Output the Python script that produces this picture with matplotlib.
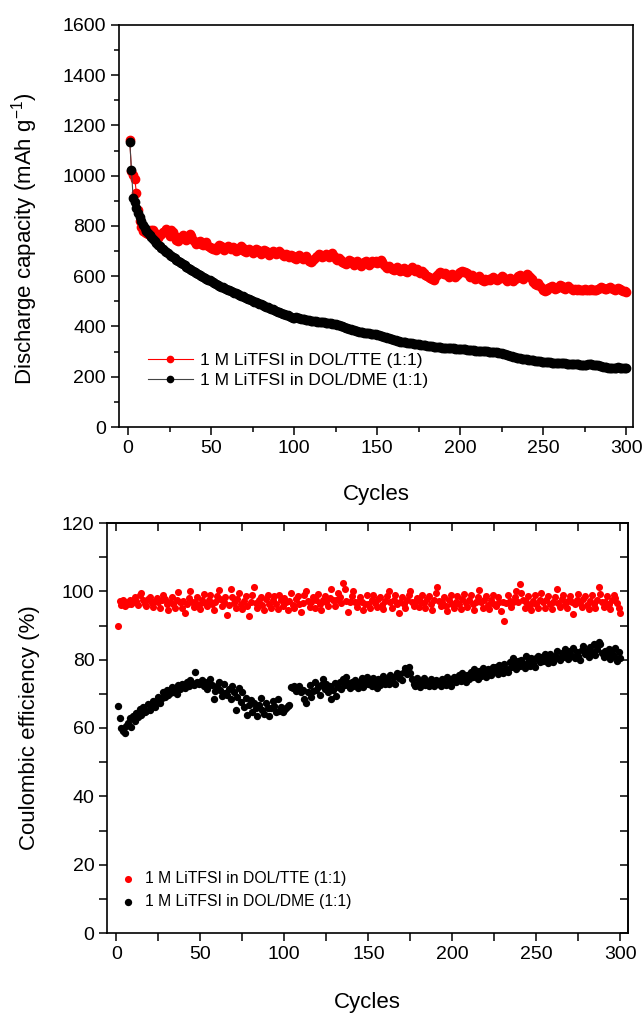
import numpy as np
import matplotlib
matplotlib.use("Agg")
import matplotlib.pyplot as plt
from matplotlib.ticker import MultipleLocator

plt.rcParams['font.family'] = ['Liberation Sans', 'DejaVu Sans']

label_tte = "1 M LiTFSI in DOL/TTE (1:1)"
label_dme = "1 M LiTFSI in DOL/DME (1:1)"

cap_tte = [
    1142, 1018, 1002, 988, 930, 865, 818, 795, 782, 778,
    772, 768, 775, 783, 786, 772, 760, 752, 764, 770,
    776, 782, 788, 774, 762, 784, 778, 760, 746, 742,
    752, 758, 764, 750, 744, 756, 768, 762, 746, 736,
    728, 738, 742, 730, 724, 732, 736, 722, 716, 712,
    708, 714, 706, 718, 726, 720, 710, 704, 714, 722,
    716, 708, 718, 712, 702, 706, 714, 720, 712, 700,
    696, 704, 710, 702, 694, 700, 708, 704, 696, 690,
    698, 706, 700, 692, 686, 694, 700, 696, 688, 692,
    700, 694, 686, 680, 688, 684, 678, 686, 680, 674,
    670, 678, 684, 676, 668, 672, 680, 674, 662, 656,
    660, 668, 676, 682, 688, 684, 676, 680, 690, 684,
    678, 686, 692, 680, 670, 664, 672, 666, 658, 654,
    650, 656, 664, 660, 652, 646, 654, 660, 648, 642,
    650, 656, 660, 652, 644, 654, 662, 656, 660, 654,
    658, 664, 656, 646, 638, 632, 640, 634, 628, 624,
    630, 636, 626, 620, 628, 632, 622, 616, 624, 630,
    636, 628, 622, 630, 618, 612, 620, 614, 606, 600,
    598, 592, 588, 586, 596, 604, 612, 618, 614, 608,
    614, 606, 598, 604, 610, 602, 596, 606, 614, 618,
    620, 616, 618, 612, 604, 598, 604, 596, 590, 594,
    600, 592, 586, 582, 590, 586, 588, 584, 592, 598,
    590, 584, 588, 594, 600, 596, 588, 582, 590, 594,
    586, 580, 588, 594, 600, 606, 598, 590, 600, 608,
    604, 596, 590, 578, 570, 566, 572, 560, 552, 544,
    540, 546, 552, 558, 562, 556, 550, 554, 558, 564,
    560, 554, 550, 556, 560, 552, 548, 546, 548, 546,
    548, 546, 544, 546, 548, 546, 544, 546, 548, 546,
    544, 546, 548, 552, 556, 552, 548, 550, 554, 556,
    552, 548, 546, 550, 554, 548, 544, 540, 542, 538,
]

cap_dme = [
    1134, 1022, 912, 895, 872, 852, 834, 818, 804, 792,
    782, 772, 764, 756, 748, 740, 733, 726, 719, 713,
    707, 701, 696, 691, 686, 681, 676, 671, 666, 661,
    656, 652, 648, 643, 638, 634, 630, 626, 622, 618,
    614, 610, 606, 602, 598, 594, 590, 587, 584, 580,
    577, 574, 570, 566, 562, 559, 556, 553, 550, 547,
    544, 541, 538, 535, 532, 529, 526, 523, 520, 517,
    514, 511, 508, 505, 502, 499, 497, 494, 491, 488,
    485, 482, 479, 476, 473, 471, 468, 465, 462, 459,
    456, 453, 450, 448, 446, 444, 441, 438, 435, 432,
    436, 434, 432, 431, 430, 428, 426, 425, 424, 423,
    422, 421, 420, 419, 418, 418, 417, 416, 415, 414,
    413, 412, 411, 410, 408, 406, 404, 402, 400, 398,
    396, 394, 392, 390, 388, 386, 384, 382, 380, 378,
    377, 376, 375, 374, 373, 372, 371, 370, 369, 368,
    366, 364, 362, 360, 358, 356, 354, 352, 350, 348,
    346, 344, 342, 340, 339, 338, 337, 336, 335, 334,
    333, 332, 331, 330, 329, 328, 327, 326, 325, 324,
    323, 322, 321, 320, 319, 318, 318, 317, 316, 316,
    315, 315, 314, 314, 313, 313, 312, 312, 311, 311,
    310, 310, 309, 308, 307, 306, 306, 305, 304, 304,
    303, 303, 302, 302, 301, 301, 300, 300, 299, 299,
    298, 297, 296, 295, 294, 292, 290, 288, 286, 284,
    282, 280, 278, 276, 274, 273, 272, 271, 270, 269,
    268, 267, 266, 265, 264, 263, 262, 261, 260, 259,
    258, 258, 257, 257, 256, 256, 255, 255, 254, 254,
    254, 253, 253, 252, 252, 251, 251, 250, 250, 249,
    249, 248, 248, 247, 247, 248, 249, 250, 249, 248,
    247, 246, 245, 244, 242, 240, 238, 237, 236, 236,
    236, 235, 235, 236, 237, 236, 235, 234, 235, 236,
]

ce_tte = [
    90.0, 97.2, 96.0, 97.5, 95.8, 96.8, 96.2, 97.6, 96.4, 97.0,
    98.4, 97.2, 96.0, 98.8, 99.4, 97.6, 96.2, 95.6, 97.8, 98.2,
    96.6, 95.4, 97.2, 98.0, 96.8, 95.2, 97.4, 99.0, 97.8, 96.2,
    94.6, 97.0, 98.2, 96.4, 95.0, 97.6, 99.8, 96.8, 95.2, 97.2,
    93.8, 96.4, 98.0, 100.0, 97.0, 95.4, 96.8, 98.4, 96.0, 94.8,
    97.6, 99.2, 96.6, 95.8, 97.4, 98.8, 96.2, 94.6, 97.0, 98.6,
    100.4, 97.8, 95.6, 96.8, 98.2, 93.0, 96.0, 100.8, 98.4, 96.6,
    95.2, 97.8, 99.6, 96.4, 94.8, 97.2, 98.6, 95.8, 92.8, 97.0,
    98.8, 101.2, 96.6, 95.2, 97.4, 98.2, 96.0, 94.6, 97.8, 98.8,
    96.4, 95.0, 97.6, 98.6, 96.2, 94.8, 99.0, 97.4, 95.6, 98.0,
    96.8, 94.4, 97.2, 99.4, 96.0, 95.2, 97.8, 98.6, 96.4, 94.0,
    96.6, 98.8, 100.0, 97.2, 95.4, 96.8, 98.2, 95.0, 97.6, 99.2,
    96.2, 94.6, 97.4, 98.6, 96.8, 95.6, 98.0, 100.6, 97.4, 95.8,
    97.6, 99.4, 98.2, 96.6, 102.4, 100.8, 97.2, 94.0, 96.8, 98.6,
    100.0, 97.0, 95.4, 96.8, 98.2, 97.0, 94.6, 96.4, 98.8, 96.2,
    95.0, 97.4, 99.0, 96.6, 95.4, 97.8, 98.4, 96.0, 94.8, 97.2,
    98.6, 100.2, 96.8, 95.2, 97.6, 98.8, 96.4, 93.8, 97.0, 98.4,
    96.2, 95.0, 97.4, 98.8, 100.2, 97.0, 95.6, 96.8, 98.0, 95.4,
    97.2, 99.0, 96.6, 95.0, 97.8, 98.6, 96.2, 94.6, 97.4, 99.6,
    101.4, 97.2, 95.6, 96.8, 98.4, 95.8, 94.2, 97.6, 98.8, 96.4,
    95.2, 97.0, 98.6, 96.4, 94.8, 97.8, 99.2, 96.6, 95.4, 97.6,
    98.8, 96.2, 94.4, 97.0, 98.4, 100.4, 96.8, 95.2, 97.4, 98.6,
    96.0, 94.8, 97.6, 99.0, 96.4, 95.6, 98.2, 96.8, 94.2, 97.0,
    91.4, 96.6, 98.8, 97.2, 95.4, 96.8, 98.4, 100.2, 97.0, 102.2,
    99.6, 97.4, 95.2, 96.8, 98.6, 96.0, 94.6, 97.2, 98.8, 96.4,
    95.0, 97.6, 99.4, 96.8, 95.2, 97.4, 98.6, 96.2, 94.8, 97.0,
    98.4, 100.6, 96.6, 95.4, 97.8, 99.0, 96.4, 95.0, 97.2, 98.6,
    96.8, 93.4, 96.2, 97.6, 99.2, 96.6, 95.4, 97.8, 98.6, 96.0,
    94.8, 97.2, 98.8, 96.4, 95.2, 97.6, 101.4, 99.2, 96.8, 95.4,
    97.0, 98.6, 96.2, 94.8, 97.4, 99.0, 98.0, 96.6, 95.0, 93.8,
]

ce_dme = [
    66.5, 63.0, 60.0, 59.2, 58.4, 60.6, 61.4, 62.8, 60.2, 63.6,
    62.0, 64.4, 63.2, 65.6, 63.8, 66.2, 64.6, 65.0, 67.0, 65.4,
    66.8, 68.0, 66.2, 67.6, 69.2, 67.4, 68.8, 70.4, 69.0, 71.2,
    69.6, 70.2, 72.0, 70.6, 71.8, 70.0, 72.6, 71.4, 73.0, 72.2,
    71.6, 73.4, 72.4, 74.0, 73.2, 72.6, 76.4, 73.6, 72.8, 73.4,
    74.0, 72.2, 73.6, 71.4, 73.0, 74.2, 72.6, 68.6, 70.8, 72.4,
    73.6, 71.0, 69.4, 72.8, 70.2, 69.6, 71.4, 68.4, 72.4, 70.6,
    65.2, 69.0, 71.8, 67.6, 70.4, 66.2, 68.8, 63.8, 66.8, 68.2,
    64.6, 67.2, 65.8, 63.4, 66.6, 68.8, 65.4, 64.2, 67.4, 66.0,
    63.4, 65.8, 68.0, 66.4, 64.8, 68.4, 65.0, 66.2, 64.6, 65.4,
    65.8, 66.4, 66.8, 72.0, 71.6, 72.4, 70.8, 71.2, 72.2, 70.6,
    71.0, 68.4, 67.2, 70.4, 72.6, 69.0, 70.8, 73.4, 71.2, 72.0,
    69.6, 72.6, 74.2, 71.4, 73.0, 70.4, 72.4, 68.6, 71.0, 73.2,
    69.4, 72.0, 73.6, 71.4, 74.4, 72.6, 75.0, 73.2, 71.8, 73.6,
    72.4, 74.0, 72.8, 71.6, 73.4, 74.6, 72.0, 73.4, 74.8, 72.8,
    73.8, 72.4, 74.6, 73.2, 71.8, 74.2, 72.6, 73.8, 75.2, 73.0,
    74.4, 72.8, 75.6, 73.4, 74.8, 73.0, 76.2, 74.6, 75.8, 74.0,
    76.4, 77.6, 75.8, 77.8, 76.2, 74.4, 73.0, 72.4, 74.6, 73.2,
    72.0, 73.8, 74.6, 72.6, 73.4, 72.2, 74.2, 73.0, 72.4, 74.0,
    72.8, 73.6, 72.2, 74.4, 73.2, 72.6, 74.8, 73.4, 72.4, 74.2,
    75.0, 73.6, 74.4, 75.4, 73.8, 76.0, 74.6, 73.4, 75.6, 74.2,
    76.4, 75.0, 77.2, 75.6, 74.4, 76.8, 75.2, 77.6, 76.0, 75.0,
    77.2, 76.2, 75.4, 78.0, 76.6, 77.8, 75.8, 78.4, 77.0, 76.2,
    78.8, 77.4, 76.4, 79.2, 77.8, 80.4, 78.6, 77.2, 79.6, 78.2,
    80.0, 78.6, 77.6, 81.0, 79.4, 78.2, 80.6, 79.0, 78.0, 80.4,
    81.2, 79.2, 80.8, 79.6, 81.6, 80.2, 79.0, 81.8, 80.4, 79.4,
    81.0, 82.4, 80.6, 79.8, 82.0, 80.8, 83.0, 81.4, 80.2, 82.6,
    81.2, 83.4, 80.4, 82.2, 81.0, 79.8, 82.8, 84.0, 81.6, 82.4,
    80.8, 83.6, 82.2, 84.6, 81.4, 83.0, 85.2, 84.6, 82.0, 80.8,
    82.6, 81.4, 83.2, 80.2, 82.0, 81.0, 83.4, 79.6, 82.2, 80.4,
]

cycles = np.arange(1, len(cap_tte) + 1)

W, H = 644, 1013
fig = plt.figure(figsize=(W / 100, H / 100), dpi=100)

def frac(l, t, r, b):
    return [l / W, 1 - b / H, (r - l) / W, (b - t) / H]

TICK_FS = 14
LAB_FS = 16

# ---------------- top panel ----------------
ax1 = fig.add_axes(frac(119, 25, 633, 427))
ax1.plot(cycles, cap_tte, '-o', color='red', lw=0.8, ms=6, mec='red',
         mfc='red', label=label_tte, zorder=2)
ax1.plot(cycles, cap_dme, '-o', color='#444444', lw=0.8, ms=6, mec='black',
         mfc='black', label=label_dme, zorder=3)
ax1.set_xlim(-5.5, 304)
ax1.set_ylim(0, 1600)
ax1.xaxis.set_major_locator(MultipleLocator(50))
ax1.xaxis.set_minor_locator(MultipleLocator(25))
ax1.yaxis.set_major_locator(MultipleLocator(200))
ax1.yaxis.set_minor_locator(MultipleLocator(100))
ax1.tick_params(which='both', direction='out', width=1.1, labelsize=TICK_FS,
                top=False, right=False)
ax1.tick_params(which='major', length=6)
ax1.tick_params(which='minor', length=3.5)
for s in ax1.spines.values():
    s.set_linewidth(1.2)
ax1.set_xlabel("Cycles", fontsize=LAB_FS, labelpad=19)
ax1.set_ylabel("Discharge capacity (mAh g$^{\\mathregular{-1}}$)", fontsize=LAB_FS)
ax1.yaxis.set_label_coords(-0.154, 0.468)
leg1 = ax1.legend(loc='center left', bbox_to_anchor=(0.056, 0.14), frameon=False,
                  fontsize=12.5, handlelength=2.6, handletextpad=0.4,
                  labelspacing=0.3, borderpad=0, borderaxespad=0, markerscale=0.75)

# ---------------- bottom panel ----------------
ax2 = fig.add_axes(frac(107, 523, 628, 933))
ax2.scatter(cycles, ce_tte, s=26, color='red', label=label_tte, zorder=2, linewidths=0)
ax2.scatter(cycles, ce_dme, s=28, color='black', label=label_dme, zorder=3, linewidths=0)
ax2.set_xlim(-5.5, 304.5)
ax2.set_ylim(0, 120)
ax2.xaxis.set_major_locator(MultipleLocator(50))
ax2.xaxis.set_minor_locator(MultipleLocator(25))
ax2.yaxis.set_major_locator(MultipleLocator(20))
ax2.yaxis.set_minor_locator(MultipleLocator(10))
ax2.tick_params(which='both', direction='out', width=1.1, length=5.5,
                labelsize=TICK_FS, top=False, right=False)
for s in ax2.spines.values():
    s.set_linewidth(1.2)
secx = ax2.secondary_xaxis('top')
secx.xaxis.set_major_locator(MultipleLocator(25))
secx.tick_params(direction='in', length=5.5, width=1.1, labeltop=False)
secy = ax2.secondary_yaxis('right')
secy.yaxis.set_major_locator(MultipleLocator(10))
secy.tick_params(direction='in', length=5.5, width=1.1, labelright=False)
for s in list(secx.spines.values()) + list(secy.spines.values()):
    s.set_linewidth(1.2)
ax2.set_xlabel("Cycles", fontsize=LAB_FS, labelpad=21)
ax2.set_ylabel("Coulombic efficiency (%)", fontsize=LAB_FS)
ax2.yaxis.set_label_coords(-0.129, 0.50)
leg2 = ax2.legend(loc='center left', bbox_to_anchor=(0.025, 0.105), frameon=False,
                  fontsize=11.3, handlelength=1.0, handletextpad=0.6,
                  labelspacing=0.55, borderpad=0, borderaxespad=0, scatterpoints=1)

fig.savefig("out.png", dpi=100)
